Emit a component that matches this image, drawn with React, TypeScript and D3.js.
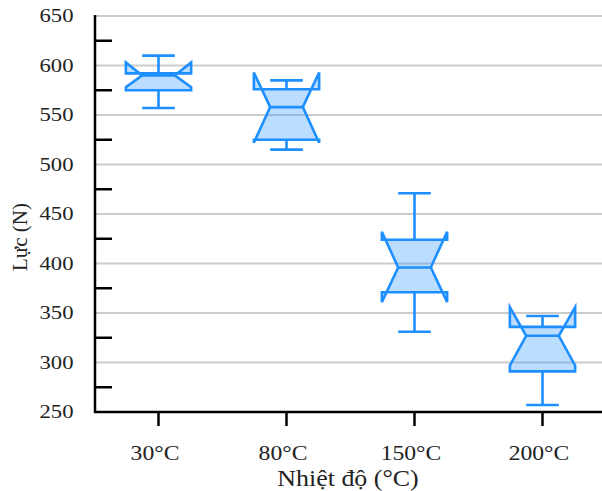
import React from "react";
import * as d3 from "d3";

const categories = ["30°C", "80°C", "150°C", "200°C"];
const whiskerLow = [557, 515, 331, 257];
const q1 = [575, 525, 371, 291];
const median = [590, 558, 396, 327];
const q3 = [592, 576, 424, 336];
const whiskerHigh = [610, 585, 471, 347];
const notchLow = [578, 522, 361, 297];
const notchHigh = [603, 593, 432, 356];
const yTicks = [250, 300, 350, 400, 450, 500, 550, 600, 650];
const yMinorTicks = [275, 325, 375, 425, 475, 525, 575, 625];

const W = 602;
const H = 491;
const FONT = "'Liberation Serif', 'Times New Roman', serif";

export default function App() {
  const y = d3.scaleLinear().domain([250, 650]).range([412, 16]);
  const x = d3.scaleBand<string>().domain(categories).range([94.5, 606.5]).padding(0);
  const bw = x.bandwidth() * 0.51;
  const left = 95;
  const right = 602;

  const boxes = categories.map((c, i) => {
    const cx = (x(c) as number) + x.bandwidth() / 2;
    const x0 = cx - bw / 2;
    const x1 = cx + bw / 2;
    const cl = cx - bw / 4;
    const cr = cx + bw / 4;
    const pts: [number, number][] = [
      [x0, y(q1[i])],
      [x1, y(q1[i])],
      [x1, y(notchLow[i])],
      [cr, y(median[i])],
      [x1, y(notchHigh[i])],
      [x1, y(q3[i])],
      [x0, y(q3[i])],
      [x0, y(notchHigh[i])],
      [cl, y(median[i])],
      [x0, y(notchLow[i])],
    ];
    const path = d3.line()(pts) + "Z";
    return { c, cx, cl, cr, path, i };
  });

  const stroke = "#1E8FFF";
  const sw = 2.6;

  return (
    <svg width={W} height={H} style={{ position: "absolute", left: 0, top: 0, background: "#fff" }}>
      {yTicks.map((t) => (
        <line key={"g" + t} x1={left} x2={right} y1={y(t)} y2={y(t)} stroke="#cccccc" strokeWidth={2} />
      ))}
      {yMinorTicks.map((t) => (
        <line key={"m" + t} x1={left} x2={left + 17} y1={y(t)} y2={y(t)} stroke="#000" strokeWidth={2.5} />
      ))}
      {boxes.map((b) => (
        <g key={b.c}>
          <line x1={b.cx} x2={b.cx} y1={y(q1[b.i])} y2={y(whiskerLow[b.i])} stroke={stroke} strokeWidth={sw} />
          <line x1={b.cx} x2={b.cx} y1={y(q3[b.i])} y2={y(whiskerHigh[b.i])} stroke={stroke} strokeWidth={sw} />
          <line x1={b.cl} x2={b.cr} y1={y(whiskerLow[b.i])} y2={y(whiskerLow[b.i])} stroke={stroke} strokeWidth={sw} />
          <line x1={b.cl} x2={b.cr} y1={y(whiskerHigh[b.i])} y2={y(whiskerHigh[b.i])} stroke={stroke} strokeWidth={sw} />
          <path d={b.path} fill="rgba(30,143,255,0.3)" stroke={stroke} strokeWidth={sw} strokeLinejoin="miter" />
          <line x1={b.cl} x2={b.cr} y1={y(median[b.i])} y2={y(median[b.i])} stroke={stroke} strokeWidth={sw} />
        </g>
      ))}
      <line x1={left} x2={left} y1={15} y2={413} stroke="#000" strokeWidth={2.5} />
      <line x1={left - 1} x2={right} y1={412} y2={412} stroke="#000" strokeWidth={2.5} />
      {categories.map((c) => {
        const cx = (x(c) as number) + x.bandwidth() / 2;
        return (
          <g key={"xt" + c}>
            <line x1={cx} x2={cx} y1={412} y2={426} stroke="#000" strokeWidth={2.5} />
            <text
              transform={`translate(${cx - 3.5},460) scale(1.1,1)`}
              textAnchor="middle"
              fontFamily={FONT}
              fontSize={21.5}
              fill="#222"
            >
              {c}
            </text>
          </g>
        );
      })}
      {yTicks.map((t) => (
        <text
          key={"yl" + t}
          transform={`translate(73.5,${y(t) + 6}) scale(1.26,1)`}
          textAnchor="end"
          fontFamily={FONT}
          fontSize={18}
          fill="#222"
        >
          {t}
        </text>
      ))}
      <text
        transform={`translate(348,486) scale(1.08,1)`}
        textAnchor="middle"
        fontFamily={FONT}
        fontSize={24}
        fill="#222"
      >
        Nhiệt độ (°C)
      </text>
      <text
        transform={`translate(27,237) rotate(-90)`}
        textAnchor="middle"
        fontFamily={FONT}
        fontSize={21}
        fill="#222"
      >
        Lực (N)
      </text>
    </svg>
  );
}
